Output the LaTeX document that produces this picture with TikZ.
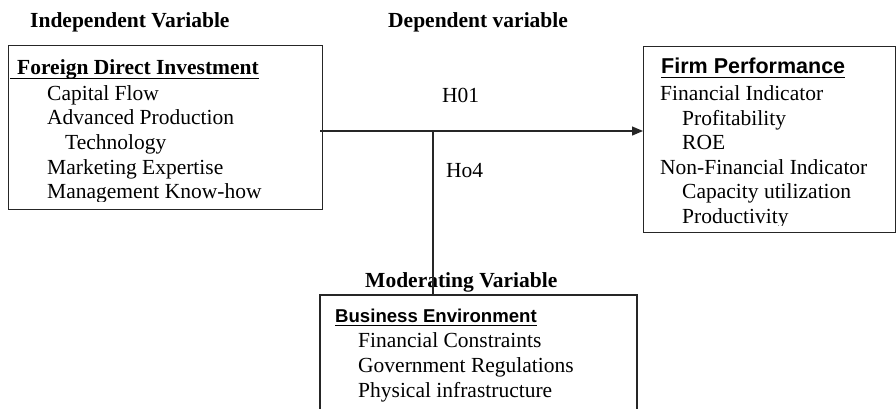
\documentclass[tikz,border=0pt]{standalone}
\usepackage{fontspec}
\setmainfont{Liberation Serif}
\setsansfont{Liberation Sans}
\usetikzlibrary{arrows.meta}
\begin{document}
\begin{tikzpicture}[x=1pt,y=-1pt,
  txt/.style={inner sep=0pt,anchor=base west,font=\fontsize{21.5}{24}\selectfont},
  ttl/.style={txt,font=\fontsize{21.5}{24}\selectfont\bfseries},
  sttl/.style={txt,font=\fontsize{21.5}{24}\selectfont\sffamily\bfseries},
  boxline/.style={draw=black!85,line width=1.2pt},
  conn/.style={draw=black!85,line width=1.2pt},
  uline/.style={draw=black,line width=1.1pt}]
\useasboundingbox (0,0) rectangle (896,408);
\fill[white] (0,0) rectangle (896,408);

% titles
\node[ttl] (tiv) at (30,27) {Independent Variable};
\node[ttl] (tdv) at (388,27) {Dependent variable};

% left box
\node[boxline,rectangle,inner sep=0pt,minimum width=314pt,minimum height=164pt,anchor=north west] (ivbox) at (8,45) {};
\begin{scope}
\clip (8,45) rectangle (322,201);
\node[ttl] (fdi) at (17,74) {Foreign Direct Investment};
\node[txt] (iv1) at (47,100) {Capital Flow};
\node[txt] (iv2) at (47,124.7) {Advanced Production};
\node[txt] (iv3) at (65,149.4) {Technology};
\node[txt] (iv4) at (47,174.1) {Marketing Expertise};
\node[txt] (iv5) at (47,198.8) {Management Know-how};
\end{scope}
\draw[uline] (10,78.5) -- (fdi.base east |- 0,78.5);

% right box
\node[boxline,rectangle,inner sep=0pt,minimum width=252pt,minimum height=186pt,anchor=north west] (dvbox) at (643,46) {};
\begin{scope}
\clip (643,46) rectangle (895,225);
\node[sttl] (fp) at (661,73) {Firm Performance};
\node[txt] (dv1) at (660,100.5) {Financial Indicator};
\node[txt] (dv2) at (682,125) {Profitability};
\node[txt] (dv3) at (682,149.5) {ROE};
\node[txt] (dv4) at (660,174) {Non-Financial Indicator};
\node[txt] (dv5) at (682,198.5) {Capacity utilization};
\node[txt] (dv6) at (682,223) {Productivity};
\end{scope}
\draw[uline] (fp.base west |- 0,77.5) -- (fp.base east |- 0,77.5);

% moderating box (open at the bottom)
\node[ttl] (tmv) at (365,287) {Moderating Variable};
\coordinate (mvtl) at (320,295);
\coordinate (mvtr) at (637,295);
\draw[boxline] (320,410) -- (mvtl) -- (mvtr) -- (637,410);
\node[txt,font=\fontsize{18.6}{22}\selectfont\sffamily\bfseries] (be) at (335,322) {Business Environment};
\draw[uline] (be.base west |- 0,325.5) -- (be.base east |- 0,325.5);
\node[txt] (mv1) at (358,347) {Financial Constraints};
\node[txt] (mv2) at (358,372) {Government Regulations};
\node[txt] (mv3) at (358,397) {Physical infrastructure};

% connectors
\coordinate (hs) at (320,131);
\coordinate (j) at (433,131);
\coordinate (mvtop) at (433,295);
\draw[conn,-{Triangle[length=11pt,width=9pt]}] (hs) -- (dvbox.west |- hs);
\draw[conn] (j) -- (mvtop);

% hypothesis labels
\node[txt] (h01) at (442,102) {H01};
\node[txt] (ho4) at (446,177) {Ho4};
\end{tikzpicture}
\end{document}
